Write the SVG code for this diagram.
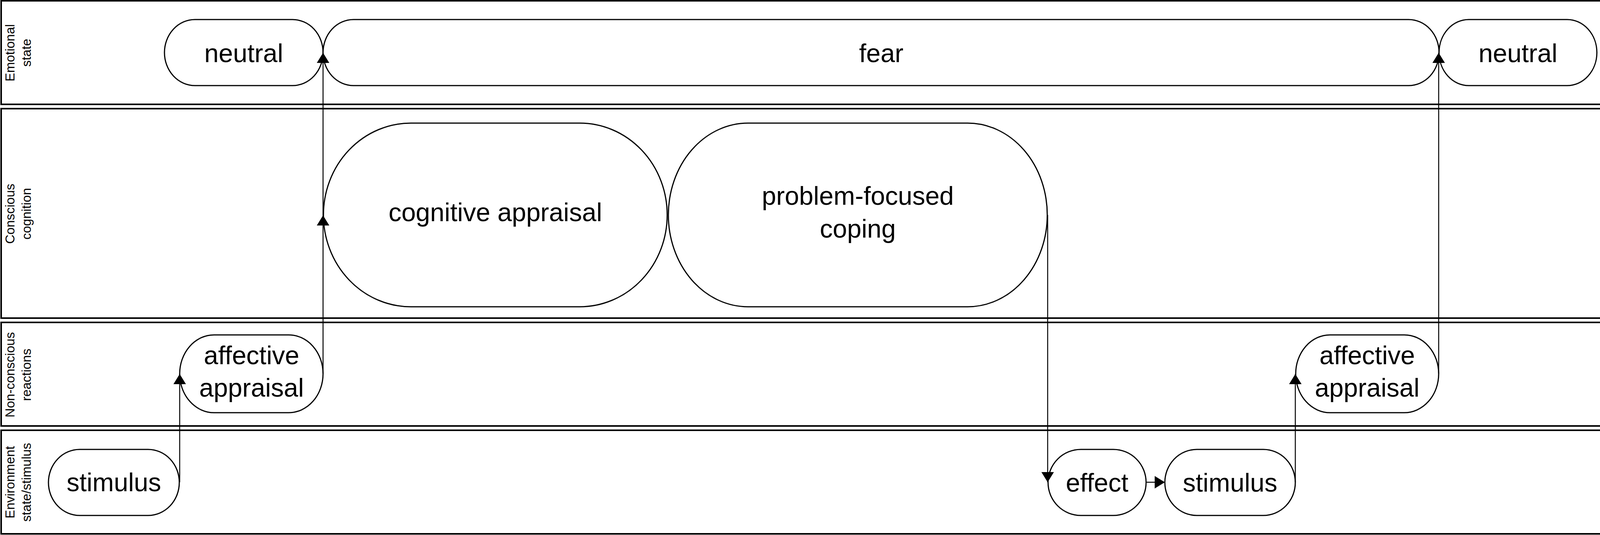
<svg xmlns="http://www.w3.org/2000/svg" width="4166" height="1369" viewBox="0 0 4166 1369">
<style>
.lane{fill:#ffffff;stroke:#000000;stroke-width:4}
.node{fill:#ffffff;stroke:#000000;stroke-width:3}
.edge{fill:none;stroke:#000000;stroke-width:2.5}
.lbl{font-family:"Liberation Sans",Arial,Helvetica,sans-serif;font-size:66px;fill:#000000;text-anchor:middle}
.lanelbl{font-family:"Liberation Sans",Arial,Helvetica,sans-serif;font-size:33px;fill:#000000;text-anchor:middle}
</style>
<defs>
<marker id="arrow" markerUnits="userSpaceOnUse" markerWidth="26" markerHeight="32" refX="26" refY="16" orient="auto" viewBox="0 0 26 32">
<path d="M0,0 L26,16 L0,32 Z" fill="#000000"/>
</marker>
</defs>
<rect width="4166" height="1369" fill="#ffffff"/>
<g id="lanes">
<g id="lane-emotional">
<rect class="lane" x="3" y="2" width="4159" height="265"/>
<text class="lanelbl" transform="translate(37,135) rotate(-90)">Emotional</text>
<text class="lanelbl" transform="translate(79,135) rotate(-90)">state</text>
</g>
<g id="lane-conscious">
<rect class="lane" x="3" y="278" width="4159" height="536"/>
<text class="lanelbl" transform="translate(37,547) rotate(-90)">Conscious</text>
<text class="lanelbl" transform="translate(79,547) rotate(-90)">cognition</text>
</g>
<g id="lane-nonconscious">
<rect class="lane" x="3" y="825" width="4159" height="265"/>
<text class="lanelbl" transform="translate(37,959) rotate(-90)">Non-conscious</text>
<text class="lanelbl" transform="translate(79,959) rotate(-90)">reactions</text>
</g>
<g id="lane-environment">
<rect class="lane" x="3" y="1101" width="4159" height="265"/>
<text class="lanelbl" transform="translate(37,1234) rotate(-90)">Environment</text>
<text class="lanelbl" transform="translate(79,1234) rotate(-90)">state/stimulus</text>
</g>
</g>
<g id="node-neutral1">
<rect class="node" x="421" y="50" width="406" height="169" rx="78" ry="84.5"/>
<text class="lbl" x="624" y="159">neutral</text>
</g>
<g id="node-fear">
<rect class="node" x="827" y="50" width="2857" height="169" rx="78" ry="84.5"/>
<text class="lbl" x="2256" y="159">fear</text>
</g>
<g id="node-neutral2">
<rect class="node" x="3684" y="50" width="404" height="169" rx="76" ry="84.5"/>
<text class="lbl" x="3886" y="159">neutral</text>
</g>
<g id="node-cognitive-appraisal">
<rect class="node" x="828" y="315" width="880" height="470" rx="224" ry="235"/>
<text class="lbl" x="1268" y="566">cognitive appraisal</text>
</g>
<g id="node-problem-focused-coping">
<rect class="node" x="1711" y="315" width="970" height="470" rx="204" ry="235"/>
<text class="lbl" x="2196" y="524">problem-focused</text>
<text class="lbl" x="2196" y="608">coping</text>
</g>
<g id="node-affective-appraisal1">
<rect class="node" x="460" y="857" width="367" height="199" rx="88" ry="99.5"/>
<text class="lbl" x="644" y="932">affective</text>
<text class="lbl" x="644" y="1015">appraisal</text>
</g>
<g id="node-affective-appraisal2">
<rect class="node" x="3317" y="857" width="366" height="199" rx="88" ry="99.5"/>
<text class="lbl" x="3500" y="932">affective</text>
<text class="lbl" x="3500" y="1015">appraisal</text>
</g>
<g id="node-stimulus1">
<rect class="node" x="124" y="1150" width="335" height="169" rx="80" ry="84.5"/>
<text class="lbl" x="291.5" y="1257">stimulus</text>
</g>
<g id="node-effect">
<rect class="node" x="2683" y="1150" width="251" height="169" rx="84" ry="84.5"/>
<text class="lbl" x="2808.5" y="1258">effect</text>
</g>
<g id="node-stimulus2">
<rect class="node" x="2982" y="1150" width="334" height="169" rx="82" ry="84.5"/>
<text class="lbl" x="3149" y="1258">stimulus</text>
</g>
<g id="connectors">
<path class="edge" d="M460,1234 L460,957" marker-end="url(#arrow)"/>
<path class="edge" d="M827,956 L827,551" marker-end="url(#arrow)"/>
<path class="edge" d="M827,551 L827,135" marker-end="url(#arrow)"/>
<path class="edge" d="M2682,550 L2682,1234" marker-end="url(#arrow)"/>
<path class="edge" d="M2934,1234 L2982,1234" marker-end="url(#arrow)"/>
<path class="edge" d="M3316,1234 L3316,957" marker-end="url(#arrow)"/>
<path class="edge" d="M3683,956 L3683,135" marker-end="url(#arrow)"/>
</g>
</svg>
